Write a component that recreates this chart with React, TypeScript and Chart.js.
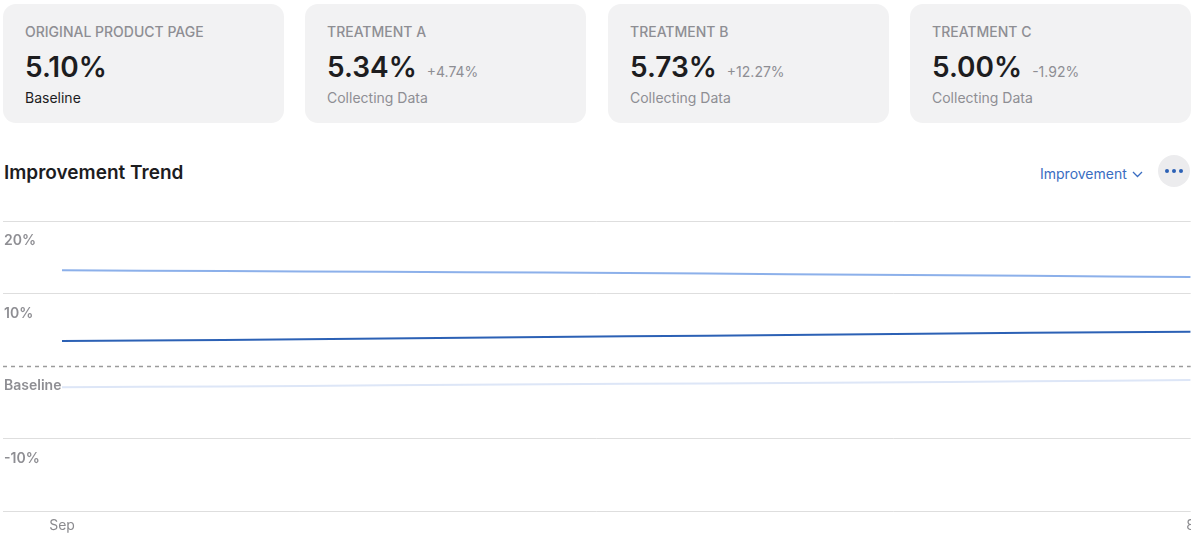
import React, { useEffect, useRef } from "react";
import { Chart, registerables } from "chart.js";

Chart.register(...registerables);

// ---- Data ----
const days = [0, 1, 2, 3, 4, 5, 6, 7];
const treatmentB = [13.2, 13.1, 13.0, 12.9, 12.75, 12.6, 12.45, 12.27];
const treatmentA = [3.45, 3.6, 3.8, 4.0, 4.2, 4.4, 4.6, 4.74];
const treatmentC = [-2.9, -2.8, -2.65, -2.5, -2.4, -2.25, -2.1, -1.92];
const xTickValues = [0, 7];
const xTickLabels = ["Sep", "8"];
const yTickValues = [20, 10, 0, -10];
const yTickLabels = ["20%", "10%", "Baseline", "-10%"];

const cardTitles = ["ORIGINAL PRODUCT PAGE", "TREATMENT A", "TREATMENT B", "TREATMENT C"];
const cardValues = ["5.10%", "5.34%", "5.73%", "5.00%"];
const cardDeltas = ["", "+4.74%", "+12.27%", "-1.92%"];
const cardStatus = ["Baseline", "Collecting Data", "Collecting Data", "Collecting Data"];

const FONT = "Inter, 'Noto Sans', 'DejaVu Sans', sans-serif";

const yLabelPlugin = {
  id: "yLabelPlugin",
  beforeDatasetsDraw(chart: any) {
    const { ctx, chartArea, scales } = chart;
    const y0 = Math.round(scales.y.getPixelForValue(0)) + 0.5;
    ctx.save();
    ctx.strokeStyle = "#9b9b9b";
    ctx.lineWidth = 1.5;
    ctx.setLineDash([4, 4]);
    ctx.beginPath();
    ctx.moveTo(chartArea.left, y0);
    ctx.lineTo(chartArea.right, y0);
    ctx.stroke();
    ctx.restore();
  },
  afterDraw(chart: any) {
    const { ctx, scales } = chart;
    ctx.save();
    ctx.font = `600 14px ${FONT}`;
    ctx.fillStyle = "#8e8e93";
    ctx.textAlign = "left";
    ctx.textBaseline = "middle";
    yTickValues.forEach((v, i) => {
      const py = scales.y.getPixelForValue(v);
      ctx.fillText(yTickLabels[i], 4, py + 20);
    });
    ctx.restore();
  },
};

function ChartView() {
  const ref = useRef<HTMLCanvasElement>(null);
  useEffect(() => {
    const chart = new Chart(ref.current as HTMLCanvasElement, {
      type: "line",
      data: {
        datasets: [
          {
            label: "Treatment C",
            data: days.map((d, i) => ({ x: d, y: treatmentC[i] })),
            borderColor: "#dde6f7",
            borderWidth: 2,
            pointRadius: 0,
            tension: 0.3,
          },
          {
            label: "Treatment B",
            data: days.map((d, i) => ({ x: d, y: treatmentB[i] })),
            borderColor: "#8cb0ea",
            borderWidth: 2,
            pointRadius: 0,
            tension: 0.3,
          },
          {
            label: "Treatment A",
            data: days.map((d, i) => ({ x: d, y: treatmentA[i] })),
            borderColor: "#2c61b5",
            borderWidth: 2,
            pointRadius: 0,
            tension: 0.3,
          },
        ],
      },
      options: {
        animation: false,
        responsive: false,
        devicePixelRatio: 1,
        layout: { padding: { top: 21, left: 3, right: 4, bottom: 8 } },
        plugins: { legend: { display: false }, tooltip: { enabled: false } },
        scales: {
          x: {
            type: "linear",
            min: -0.366,
            max: 7,
            grid: { display: false, drawTicks: false },
            border: { display: false },
            afterBuildTicks: (axis: any) => {
              axis.ticks = xTickValues.map((v) => ({ value: v }));
            },
            ticks: {
              padding: 6,
              maxRotation: 0,
              autoSkip: false,
              color: "#8a8a8e",
              font: { family: FONT, size: 14 },
              callback: (value: any) => {
                const idx = xTickValues.indexOf(Number(value));
                return idx >= 0 ? xTickLabels[idx] : "";
              },
            },
          },
          y: {
            min: -20,
            max: 20,
            ticks: { display: false, stepSize: 10 },
            border: { display: false },
            grid: {
              drawTicks: false,
              lineWidth: 1,
              color: (ctx: any) => (ctx.tick && ctx.tick.value === 0 ? "rgba(0,0,0,0)" : "#dedede"),
            },
          },
        },
      },
      plugins: [yLabelPlugin],
    });
    return () => chart.destroy();
  }, []);
  return (
    <div style={{ position: "absolute", left: 0, top: 200, width: 1191, height: 348, overflow: "hidden" }}>
      <canvas ref={ref} width={1201} height={348} style={{ width: 1201, height: 348, display: "block" }} />
    </div>
  );
}

export default function App() {
  const cardLefts = [3, 305, 608, 910];
  return (
    <div
      style={{
        position: "fixed",
        left: 0,
        top: 0,
        width: 1200,
        height: 548,
        background: "#ffffff",
        fontFamily: FONT,
        overflow: "hidden",
      }}
    >
      {cardTitles.map((t, i) => (
        <div
          key={t}
          style={{
            position: "absolute",
            left: cardLefts[i],
            top: 4,
            width: 281,
            height: 119,
            borderRadius: 13,
            background: "#f2f2f3",
          }}
        >
          <div
            style={{
              position: "absolute",
              left: 22,
              top: 21,
              fontSize: 14,
              lineHeight: "14px",
              color: "#8e8e93",
              fontWeight: 500,
              whiteSpace: "nowrap",
            }}
          >
            {t}
          </div>
          <div
            style={{
              position: "absolute",
              left: 22,
              top: 49,
              display: "flex",
              alignItems: "baseline",
              whiteSpace: "nowrap",
            }}
          >
            <span style={{ fontSize: 28, lineHeight: "28px", fontWeight: 600, color: "#1d1d1f" }}>{cardValues[i]}</span>
            {cardDeltas[i] ? (
              <span style={{ fontSize: 14, lineHeight: "14px", color: "#8e8e93", marginLeft: 10 }}>{cardDeltas[i]}</span>
            ) : null}
          </div>
          <div
            style={{
              position: "absolute",
              left: 22,
              top: 87,
              fontSize: 14,
              lineHeight: "14px",
              color: i === 0 ? "#1d1d1f" : "#8e8e93",
              whiteSpace: "nowrap",
            }}
          >
            {cardStatus[i]}
          </div>
        </div>
      ))}
      <div
        style={{
          position: "absolute",
          left: 4,
          top: 163,
          fontSize: 19,
          lineHeight: "19px",
          fontWeight: 600,
          color: "#1d1d1f",
          whiteSpace: "nowrap",
        }}
      >
        Improvement Trend
      </div>
      <div
        style={{
          position: "absolute",
          left: 1040,
          top: 167,
          fontSize: 14,
          lineHeight: "14px",
          color: "#3a6dc2",
          whiteSpace: "nowrap",
          display: "flex",
          alignItems: "center",
        }}
      >
        <span>Improvement</span>
        <svg width="11" height="7" viewBox="0 0 11 7" style={{ marginLeft: 5 }}>
          <polyline points="1,1 5.5,5.5 10,1" fill="none" stroke="#3a6dc2" strokeWidth="1.3" />
        </svg>
      </div>
      <div
        style={{
          position: "absolute",
          left: 1158,
          top: 155,
          width: 32,
          height: 32,
          borderRadius: 16,
          background: "#ececee",
          display: "flex",
          alignItems: "center",
          justifyContent: "center",
          gap: 3,
        }}
      >
        {[0, 1, 2].map((k) => (
          <div key={k} style={{ width: 4, height: 4, borderRadius: 2, background: "#2c61b5" }} />
        ))}
      </div>
      <ChartView />
    </div>
  );
}
